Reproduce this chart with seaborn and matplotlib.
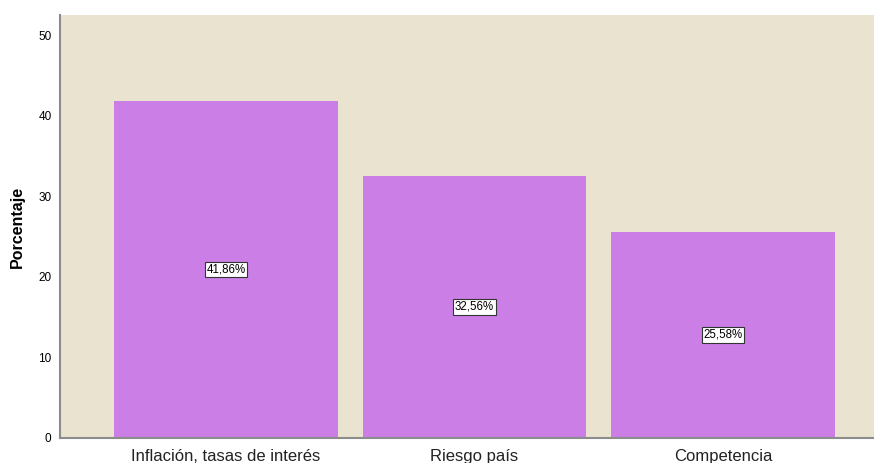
import matplotlib
matplotlib.use("Agg")
import matplotlib.pyplot as plt
import seaborn as sns
import pandas as pd

categorias = ["Inflación, tasas de interés", "Riesgo país", "Competencia"]
porcentajes = [41.86, 32.56, 25.58]
etiquetas = ["41,86%", "32,56%", "25,58%"]
yticks = [0, 10, 20, 30, 40, 50]

sns.set_theme(style="white")
plt.rcParams["font.family"] = ["Liberation Sans", "DejaVu Sans"]

df = pd.DataFrame({"categoria": categorias, "porcentaje": porcentajes})

fig = plt.figure(figsize=(8.74, 4.63), dpi=100)
ax = fig.add_axes([0.0686, 0.054, 0.9314, 0.9136])
ax.set_facecolor("#EAE3CF")

sns.barplot(data=df, x="categoria", y="porcentaje", color="#CB7FE6",
            saturation=1, width=0.9, edgecolor="none", ax=ax)

for i, (v, t) in enumerate(zip(porcentajes, etiquetas)):
    ax.text(i, v / 2, t, ha="center", va="center", fontsize=8.3, color="black",
            bbox=dict(boxstyle="square,pad=0.15", facecolor="white",
                      edgecolor="#333333", linewidth=0.8))

ax.set_xlim(-0.668, 2.608)
ax.set_ylim(0, 52.5)
ax.set_yticks(yticks)
ax.set_yticklabels([str(t) for t in yticks], fontsize=8.5, color="black")
ax.tick_params(axis="both", length=0)
ax.tick_params(axis="y", pad=6)
ax.tick_params(axis="x", labelsize=12, pad=8, labelcolor="#222222")
ax.set_xlabel("")
ax.set_ylabel("Porcentaje", fontsize=11.5, fontweight="bold", labelpad=10,
              color="black")

for s in ["top", "right"]:
    ax.spines[s].set_visible(False)
for s in ["left", "bottom"]:
    ax.spines[s].set_color("#8C8C8C")
    ax.spines[s].set_linewidth(1.5)

fig.savefig("out.png", dpi=100)
